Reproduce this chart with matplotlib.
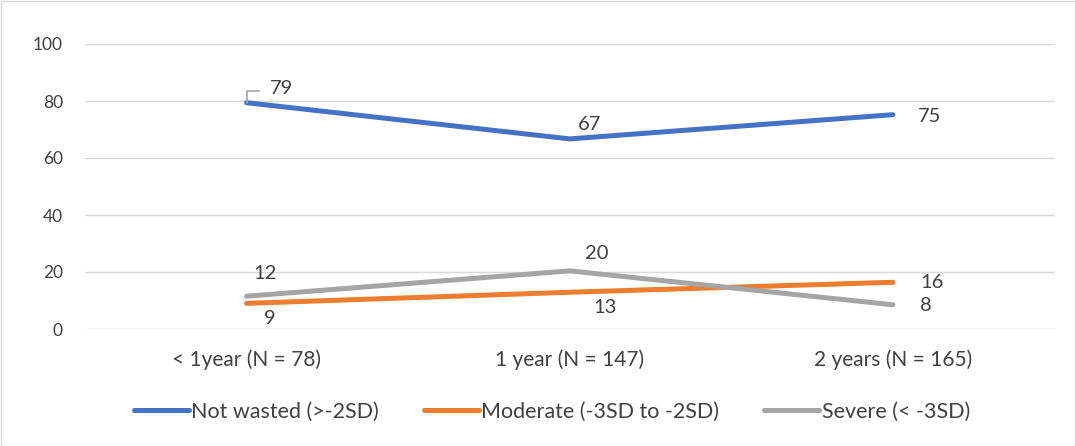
import matplotlib
matplotlib.use("Agg")
import matplotlib.pyplot as plt
from matplotlib.patches import Rectangle

plt.rcParams['font.family'] = ['Lato', 'DejaVu Sans']

categories = ["< 1year (N = 78)", "1 year (N = 147)", "2 years (N = 165)"]
not_wasted = [79.4, 66.7, 75.2]
moderate = [9.0, 12.9, 16.4]
severe = [11.5, 20.4, 8.5]

series_names = ["Not wasted (>-2SD)", "Moderate (-3SD to -2SD)", "Severe (< -3SD)"]
colors = ["#4472C4", "#ED7D31", "#A5A5A5"]
# label offsets in pixels (dx, dy) per point
offsets = [
    [(35, 14), (20, 14), (37, -2)],
    [(23, -15), (35, -15), (39, 0)],
    [(18, 23), (27, 17), (33, -1)],
]
text_color = "#404040"

fig = plt.figure(figsize=(10.75, 4.46), dpi=100)
ax = fig.add_axes([85 / 1075, 117 / 446, 969.5 / 1075, 285 / 446])

x = list(range(len(categories)))
for vals, name, col, offs in zip([not_wasted, moderate, severe], series_names, colors, offsets):
    ax.plot(x, vals, color=col, lw=3.6, label=name, solid_capstyle='round', zorder=3)
    for xi, v, (dx, dy) in zip(x, vals, offs):
        ax.annotate(f"{v:.0f}", (xi, v), xytext=(dx, dy), textcoords='offset pixels',
                    ha='center', va='center', fontsize=14.5, color=text_color)

# leader line for the first label
ax.annotate("", (0, not_wasted[0]), xytext=(12, 12), textcoords='offset pixels',
            arrowprops=dict(arrowstyle='-', color='#A5A5A5', lw=1.2,
                            connectionstyle='angle,angleA=0,angleB=90,rad=0',
                            shrinkA=0, shrinkB=0))

ax.set_xlim(-0.5, 2.5)
ax.set_ylim(0, 100)
ax.set_yticks(range(0, 101, 20))
ax.set_xticks(x)
ax.set_xticklabels(categories)
ax.grid(axis='y', color='#D9D9D9', lw=1)
ax.set_axisbelow(True)
for s in ax.spines.values():
    s.set_visible(False)
ax.tick_params(axis='both', length=0, colors=text_color)
ax.tick_params(axis='y', pad=16, labelsize=12.5)
ax.tick_params(axis='x', pad=15, labelsize=15)

fig.legend(loc='center', bbox_to_anchor=(552 / 1075, 34 / 446), ncol=3, frameon=False,
           fontsize=15.5, handlelength=2.55, handletextpad=0.1, columnspacing=2.1,
           labelcolor=text_color)

fig.patches.append(Rectangle((0.5 / 1075, 0.5 / 446), 1 - 1 / 1075, 1 - 1 / 446,
                             transform=fig.transFigure, fill=False,
                             edgecolor='#D9D9D9', lw=1))

fig.savefig("out.png", dpi=100)
